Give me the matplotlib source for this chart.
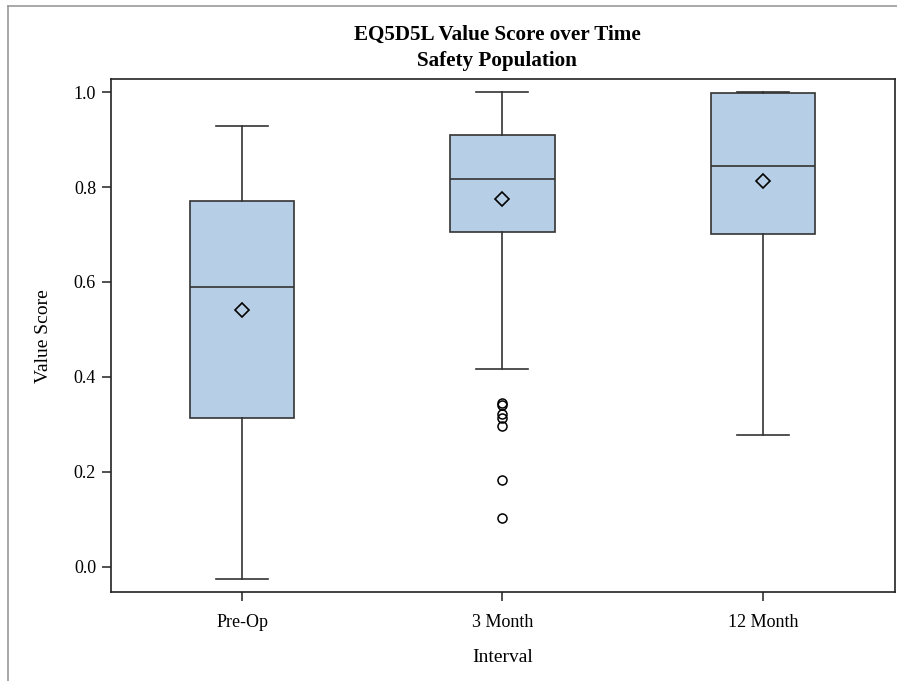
import matplotlib
matplotlib.use("Agg")
import matplotlib.pyplot as plt
from matplotlib.lines import Line2D

# --- box statistics ---
intervals = ["Pre-Op", "3 Month", "12 Month"]
q1 = [0.314, 0.706, 0.701]
median = [0.590, 0.816, 0.845]
q3 = [0.771, 0.909, 0.999]
whisker_low = [-0.026, 0.417, 0.277]
whisker_high = [0.928, 1.000, 1.000]
means = [0.540, 0.774, 0.813]
outliers = [[], [0.345, 0.341, 0.322, 0.313, 0.297, 0.183, 0.102], []]

yticks = [0.0, 0.2, 0.4, 0.6, 0.8, 1.0]

plt.rcParams["font.family"] = ["Liberation Serif", "DejaVu Serif"]

fig = plt.figure(figsize=(8.97, 6.81), dpi=100)
ax = fig.add_axes([0.1234, 0.1307, 0.8744, 0.7529])

stats = []
for i, name in enumerate(intervals):
    stats.append(dict(label=name, q1=q1[i], med=median[i], q3=q3[i],
                      whislo=whisker_low[i], whishi=whisker_high[i],
                      mean=means[i], fliers=outliers[i]))

edge = "#333333"
ax.bxp(stats, positions=range(len(intervals)), widths=0.4, patch_artist=True,
       showmeans=True, showfliers=True,
       boxprops=dict(facecolor="#b7cfe6", edgecolor=edge, linewidth=1.2),
       medianprops=dict(color=edge, linewidth=1.2),
       whiskerprops=dict(color=edge, linewidth=1.2),
       capprops=dict(color=edge, linewidth=1.2),
       capwidths=0.2,
       meanprops=dict(marker="D", markerfacecolor="none", markeredgecolor="black",
                      markersize=7.5, markeredgewidth=1.2),
       flierprops=dict(marker="o", markerfacecolor="none", markeredgecolor="black",
                       markersize=6.5, markeredgewidth=1.1))

ax.set_xlim(-0.505, 2.508)
ax.set_ylim(-0.053, 1.027)
ax.set_yticks(yticks)
ax.set_yticklabels([f"{v:.1f}" for v in yticks])
ax.set_xticks(range(len(intervals)))
ax.set_xticklabels(intervals)
ax.tick_params(axis="both", direction="out", length=6.5, width=1.1,
               colors="#222222", labelsize=13, labelcolor="black")
ax.tick_params(axis="y", pad=4)
ax.tick_params(axis="x", pad=9)
for s in ax.spines.values():
    s.set_linewidth(1.2)
    s.set_color("#222222")

ax.set_xlabel("Interval", fontsize=14, labelpad=13)
ax.set_ylabel("Value Score", fontsize=14, labelpad=16)

fig.text(0.554, 0.949, "EQ5D5L Value Score over Time", ha="center", va="center",
         fontsize=15.2, fontweight="bold")
fig.text(0.554, 0.910, "Safety Population", ha="center", va="center",
         fontsize=15.2, fontweight="bold")

# outer frame (only left and top edges visible)
fig.add_artist(Line2D([0.0093, 0.0093], [0.0, 0.9916], color="#999999", linewidth=1.2,
                      transform=fig.transFigure))
fig.add_artist(Line2D([0.0093, 1.0], [0.9916, 0.9916], color="#999999", linewidth=1.2,
                      transform=fig.transFigure))

fig.savefig("out.png", dpi=100)
